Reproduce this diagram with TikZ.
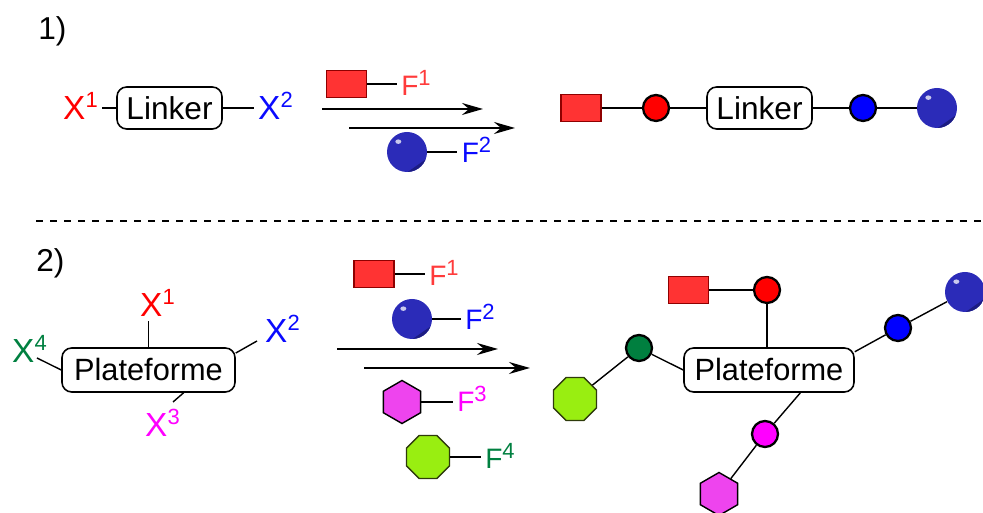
\documentclass[tikz,border=0pt]{standalone}
\usepackage{fontspec}
\setmainfont{Liberation Sans}
\setsansfont{Liberation Sans}
\usetikzlibrary{arrows.meta,positioning,calc,shapes.geometric}
\definecolor{xRed}{HTML}{FF0000}
\definecolor{fRed}{HTML}{FF3B3B}
\definecolor{xBlue}{HTML}{0A0AFF}
\definecolor{xMagenta}{HTML}{FF00FF}
\definecolor{xGreen}{HTML}{008040}
\definecolor{boxRed}{HTML}{FF3333}
\definecolor{boxRedDark}{HTML}{8F0000}
\definecolor{ballBlue}{HTML}{2B2BB8}
\definecolor{ballShade}{HTML}{1C1C82}
\definecolor{dotRed}{HTML}{FF0000}
\definecolor{dotBlue}{HTML}{0000FF}
\definecolor{dotGreen}{HTML}{007F3F}
\definecolor{dotMagenta}{HTML}{FF00FF}
\definecolor{hexFill}{HTML}{EE44EE}
\definecolor{octLime}{HTML}{99EE11}
\definecolor{octDark}{HTML}{2E3B0B}
\newcommand{\supnum}[1]{\raisebox{0.68ex}{\fontsize{12.5}{13}\selectfont #1}}
\tikzset{
  >={Stealth[length=4.2mm,width=2.4mm,inset=1.4mm]},
  bond/.style={draw=black, line width=0.8pt},
  rxn/.style={->, draw=black, line width=1pt},
  sepline/.style={draw=black, line width=0.75pt, dash pattern=on 0.13cm off 0.15cm},
  corebox/.style={draw=black, rounded corners=5.5pt, line width=0.9pt, fill=white,
                  font=\fontsize{18}{20}\selectfont, inner sep=0pt},
  xlab/.style={font=\fontsize{19}{20}\selectfont, inner xsep=2.5pt, inner ysep=0pt, anchor=base west},
  flab/.style={font=\fontsize{16}{18}\selectfont, inner xsep=2.5pt, inner ysep=0pt, anchor=base west},
  tag/.style={font=\fontsize{18}{20}\selectfont, inner sep=0pt, anchor=base west},
  redbox/.style={rectangle, draw=boxRedDark, fill=boxRed, line width=0.8pt,
                 minimum width=0.8cm, minimum height=0.54cm, inner sep=0pt},
  ball/.style={circle, fill=ballBlue, minimum size=0.8cm, inner sep=0pt,
    path picture={
      \fill[ballShade] ([shift={(-22:0.4)}]path picture bounding box.center)
        -- ([shift={(-88:0.4)}]path picture bounding box.center)
        -- ([shift={(-55:0.6)}]path picture bounding box.center) -- cycle;
      \fill[white, opacity=0.75] ([shift={(130:0.27)}]path picture bounding box.center)
        ellipse (0.06 and 0.045);
    }},
  dot/.style={circle, draw=black, line width=1.3pt, minimum size=0.52cm, inner sep=0pt},
  hexa/.style={regular polygon, regular polygon sides=6, shape border rotate=30,
               draw=black, fill=hexFill, line width=0.8pt, minimum size=0.86cm, inner sep=0pt},
  octa/.style={regular polygon, regular polygon sides=8, draw=octDark, fill=octLime,
               line width=0.8pt, minimum size=0.93cm, inner sep=0pt}
}

\begin{document}
\begin{tikzpicture}[font=\sffamily]
\useasboundingbox (0,0) rectangle (19.66,10.26);

% ------------------------------------------------------------
% 1) linear linker
% ------------------------------------------------------------
\node[tag] (lab1) at (0.76,9.46) {1)};

\node[xlab, text=xRed] (x1a) at (1.17,7.86) {X\supnum{1}};
\node[corebox, minimum width=2.1cm, minimum height=0.84cm] (linkA) at (3.39,8.10) {Linker};
\node[xlab, text=xBlue] (x2a) at (5.07,7.86) {X\supnum{2}};
\draw[bond] (linkA.west) -- (x1a.east |- linkA.west);
\draw[bond] (linkA.east) -- (x2a.west |- linkA.east);

% reagents
\node[redbox] (f1box) at (6.93,8.58) {};
\node[flab, text=fRed] (f1a) at (7.93,8.35) {F\supnum{1}};
\draw[bond] (f1box.east) -- (f1a.west |- f1box.east);

\coordinate (arr1s) at (6.44,8.08);
\coordinate (arr1e) at (9.66,8.08);
\coordinate (arr2s) at (6.98,7.70);
\coordinate (arr2e) at (10.30,7.70);
\draw[rxn] (arr1s) -- (arr1e);
\draw[rxn] (arr2s) -- (arr2e);

\node[ball] (f2ball) at (8.14,7.22) {};
\node[flab, text=xBlue] (f2a) at (9.14,7.00) {F\supnum{2}};
\draw[bond] (f2ball.east) -- (f2a.west |- f2ball.east);

% product
\node[redbox] (p1box) at (11.62,8.10) {};
\node[dot, fill=dotRed] (p1red) at (13.12,8.10) {};
\node[corebox, minimum width=2.1cm, minimum height=0.84cm] (linkB) at (15.19,8.10) {Linker};
\node[dot, fill=dotBlue] (p1blue) at (17.26,8.10) {};
\node[ball] (p1ball) at (18.74,8.10) {};
\draw[bond] (p1box) -- (p1red);
\draw[bond] (p1red) -- (linkB);
\draw[bond] (linkB) -- (p1blue);
\draw[bond] (p1blue) -- (p1ball);

% separator
\coordinate (sepL) at (0.72,5.84);
\coordinate (sepR) at (19.64,5.84);
\draw[sepline] (sepL) -- (sepR);

% ------------------------------------------------------------
% 2) platform
% ------------------------------------------------------------
\node[tag] (lab2) at (0.72,4.82) {2)};

\node[corebox, font=\fontsize{17.5}{20}\selectfont, minimum width=3.46cm, minimum height=0.88cm] (platA) at (2.97,2.86) {Plateforme};
\node[xlab, text=xRed] (x1b) at (2.71,3.92) {X\supnum{1}};
\node[xlab, text=xBlue] (x2b) at (5.21,3.40) {X\supnum{2}};
\node[xlab, text=xMagenta] (x3b) at (2.81,1.52) {X\supnum{3}};
\node[xlab, text=xGreen] (x4b) at (0.15,3.00) {X\supnum{4}};
\draw[bond] (platA.north) -- ([yshift=-2pt]platA.north |- x1b.south);
\draw[bond] (platA.11) -- ($(x2b.base west)+(-0.07,0.04)$);
\draw[bond] (platA.-33) -- ($(x3b.base west)+(0.65,0.70)$);
\draw[bond] (platA.west) -- ($(x4b.base west)+(0.59,0.10)$);

% reagents
\node[redbox] (g1box) at (7.48,4.78) {};
\node[flab, text=fRed] (g1a) at (8.49,4.54) {F\supnum{1}};
\draw[bond] (g1box.east) -- (g1a.west |- g1box.east);

\node[ball] (g2ball) at (8.24,3.88) {};
\node[flab, text=xBlue] (g2a) at (9.21,3.66) {F\supnum{2}};
\draw[bond] (g2ball.east) -- (g2a.west |- g2ball.east);

\coordinate (arr3s) at (6.74,3.28);
\coordinate (arr3e) at (9.96,3.28);
\coordinate (arr4s) at (7.28,2.90);
\coordinate (arr4e) at (10.60,2.90);
\draw[rxn] (arr3s) -- (arr3e);
\draw[rxn] (arr4s) -- (arr4e);

\node[hexa] (g3hex) at (8.04,2.22) {};
\node[flab, text=xMagenta] (g3a) at (9.05,2.02) {F\supnum{3}};
\draw[bond] (g3hex.east) -- (g3a.west |- g3hex.east);

\node[octa] (g4oct) at (8.56,1.12) {};
\node[flab, text=xGreen] (g4a) at (9.61,0.88) {F\supnum{4}};
\draw[bond] (g4oct.east) -- (g4a.west |- g4oct.east);

% product
\node[corebox, font=\fontsize{17.5}{20}\selectfont, minimum width=3.40cm, minimum height=0.88cm] (platB) at (15.38,2.86) {Plateforme};
\node[redbox] (q1box) at (13.77,4.46) {};
\node[dot, fill=dotRed] (q1red) at (15.34,4.46) {};
\node[dot, fill=dotGreen] (q4green) at (12.78,3.30) {};
\node[octa] (q4oct) at (11.50,2.28) {};
\node[dot, fill=dotBlue] (q2blue) at (17.96,3.70) {};
\node[ball] (q2ball) at (19.30,4.42) {};
\node[dot, fill=dotMagenta] (q3mag) at (15.30,1.58) {};
\node[hexa] (q3hex) at (14.38,0.38) {};

\draw[bond] (q1box) -- (q1red);
\draw[bond] (q1red) -- (q1red |- platB.north);
\draw[bond] (platB.west) -- (q4green);
\draw[bond] (q4green) -- (q4oct);
\draw[bond] (platB.12) -- (q2blue);
\draw[bond] (q2blue) -- (q2ball);
\draw[bond] (platB.-36) -- (q3mag);
\draw[bond] (q3mag) -- (q3hex);

\end{tikzpicture}
\end{document}
